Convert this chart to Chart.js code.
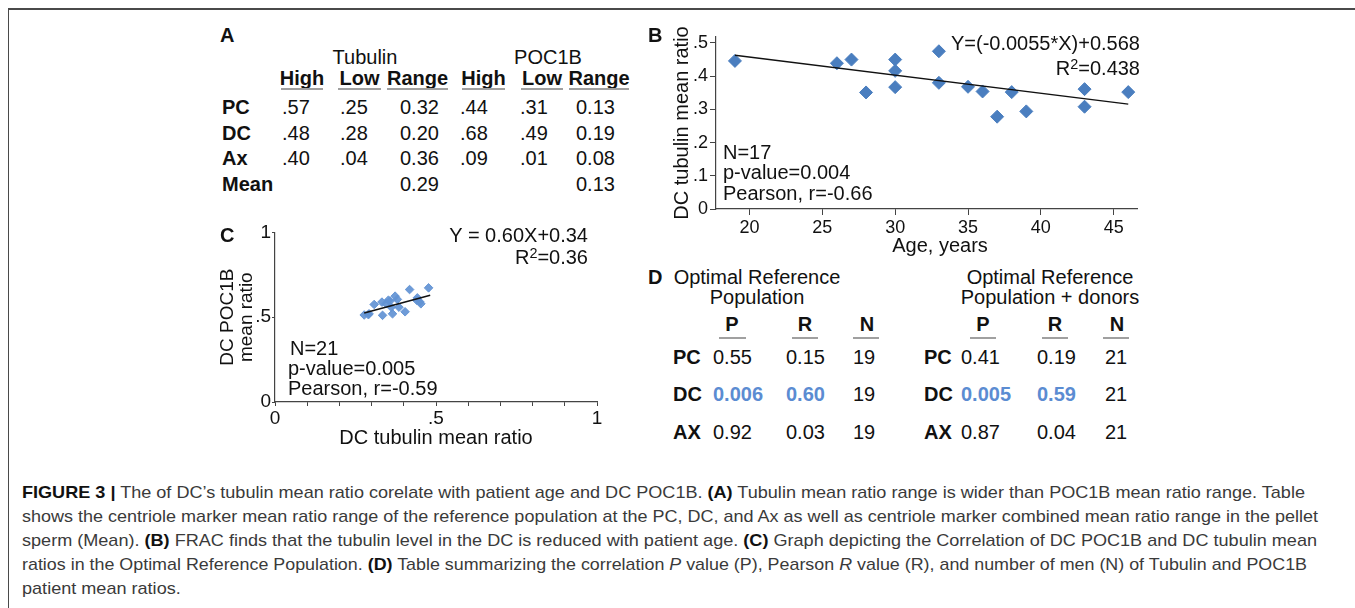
<!DOCTYPE html>
<html>
<head>
<meta charset="utf-8">
<script src="https://cdn.jsdelivr.net/npm/chart.js@4.4.1/dist/chart.umd.min.js"></script>
<style>
  html, body { margin: 0; padding: 0; background: #fff; }
  #page { position: relative; width: 1355px; height: 608px; overflow: hidden; font-family: 'Liberation Sans', Arial, sans-serif; color: #111; }
  #frame { position: absolute; left: 8px; top: 8px; width: 1400px; height: 700px; border-top: 2px solid #4a4a4a; border-left: 1.5px solid #4a4a4a; }
  canvas { position: absolute; }
  .t { position: absolute; white-space: nowrap; line-height: 1; }
  .cap { position: absolute; left: 22px; white-space: nowrap; font-family: 'Liberation Sans Narrow', 'Liberation Sans', sans-serif; font-size: 17px; color: #3a3a3a; line-height: 1; transform-origin: 0 50%; }
  .cap b { color: #111; }
  sup { font-size: 0.72em; vertical-align: 0.42em; line-height: 0; }
</style>
</head>
<body>
<div id="page">
  <div id="frame"></div>
  <canvas id="chartB" width="520" height="240" style="left:640px;top:20px;"></canvas>
  <canvas id="chartC" width="420" height="230" style="left:210px;top:220px;"></canvas>
</div>
<script>
// ---- Panel B: age vs DC tubulin mean ratio
const agesB = [19, 26, 27, 28, 30, 30, 30, 33, 33, 35, 36, 37, 38, 39, 43, 43, 46];
const tubulinB = [0.446, 0.439, 0.450, 0.351, 0.450, 0.416, 0.367, 0.475, 0.380, 0.368, 0.354, 0.278, 0.352, 0.294, 0.361, 0.308, 0.352];
const fitBx = [19, 46];
const fitBy = [0.463, 0.316];
const xTicksB = [20, 25, 30, 35, 40, 45];
const yTicksB = [0, 0.1, 0.2, 0.3, 0.4, 0.5];
const yTickLabelsB = ['0', '.1', '.2', '.3', '.4', '.5'];

// ---- Panel C: DC tubulin vs DC POC1B mean ratio
const tubulinC = [0.277, 0.290, 0.292, 0.308, 0.332, 0.334, 0.345, 0.352, 0.357, 0.361, 0.365, 0.373, 0.380, 0.385, 0.404, 0.418, 0.440, 0.442, 0.450, 0.453, 0.477];
const poc1bC = [0.513, 0.515, 0.520, 0.575, 0.589, 0.511, 0.580, 0.600, 0.595, 0.559, 0.520, 0.624, 0.605, 0.559, 0.532, 0.663, 0.600, 0.614, 0.590, 0.579, 0.673];
const fitCx = [0.277, 0.482];
const fitCy = [0.525, 0.630];
const xTicksC = [0, 0.1, 0.2, 0.3, 0.4, 0.5, 0.6, 0.7, 0.8, 0.9, 1];
const xTickLabelsC = ['0', '', '', '', '', '.5', '', '', '', '', '1'];
const yTicksC = [0, 0.5, 1];
const yTickLabelsC = ['0', '.5', '1'];

// ---- Panel A table
const rowLabelsA = ['PC', 'DC', 'Ax', 'Mean'];
const headersA = ['High', 'Low', 'Range', 'High', 'Low', 'Range'];
const tubulinHigh = ['.57', '.48', '.40', ''];
const tubulinLow = ['.25', '.28', '.04', ''];
const tubulinRange = ['0.32', '0.20', '0.36', '0.29'];
const pocHigh = ['.44', '.68', '.09', ''];
const pocLow = ['.31', '.49', '.01', ''];
const pocRange = ['0.13', '0.19', '0.08', '0.13'];

// ---- Panel D table
const rowLabelsD = ['PC', 'DC', 'AX'];
const headersD = ['P', 'R', 'N'];
const refP = ['0.55', '0.006', '0.92'];
const refR = ['0.15', '0.60', '0.03'];
const refN = ['19', '19', '19'];
const donorP = ['0.41', '0.005', '0.87'];
const donorR = ['0.19', '0.59', '0.04'];
const donorN = ['21', '21', '21'];

const page = document.getElementById('page');
const pointBlue = '#4a7ebf';
const axisGrey = '#444';

// put a text at (x, y=vertical centre)
function txt(html, x, y, opt = {}) {
    const d = document.createElement('div');
    d.className = 't';
    d.innerHTML = html;
    const align = opt.align || 'left';
    const tx = align === 'center' ? '-50%' : (align === 'right' ? '-100%' : '0');
    d.style.left = x + 'px';
    d.style.top = y + 'px';
    d.style.fontSize = (opt.size || 20) + 'px';
    d.style.fontWeight = opt.weight || 'normal';
    d.style.color = opt.color || '#111';
    d.style.transform = 'translate(' + tx + ',-50%)';
    page.appendChild(d);
    return d;
}

function rule(x1, x2, y, h, color) {
    const d = document.createElement('div');
    d.style.cssText = 'position:absolute;left:' + x1 + 'px;top:' + y + 'px;width:' + (x2 - x1) + 'px;height:' + h + 'px;background:' + color + ';';
    page.appendChild(d);
}

// ---------- Panel A ----------
txt('A', 220, 35, { weight: 'bold' });
txt('Tubulin', 365, 57, { align: 'center' });
txt('POC1B', 548, 57, { align: 'center' });
const headSpanA = [[281, 323], [338, 381], [387, 448], [462, 505], [521, 563], [569, 629]];
headersA.forEach((h, i) => {
    const [a, b] = headSpanA[i];
    txt(h, (a + b) / 2, 78, { align: 'center', weight: 'bold' });
    rule(a, b, 88, 2, '#a0a0a0');
});
const rowYA = [107, 133, 158, 184];
const colsA = [[tubulinHigh, 282], [tubulinLow, 340], [tubulinRange, 400], [pocHigh, 460], [pocLow, 520], [pocRange, 576]];
rowLabelsA.forEach((r, i) => {
    txt(r, 222, rowYA[i], { weight: 'bold' });
    colsA.forEach(([arr, x]) => { if (arr[i]) txt(arr[i], x, rowYA[i]); });
});

// ---------- Panel D ----------
txt('D', 648, 277, { weight: 'bold' });
txt('Optimal Reference', 757, 277, { align: 'center' });
txt('Population', 757, 297, { align: 'center' });
txt('Optimal Reference', 1050, 277, { align: 'center' });
txt('Population + donors', 1050, 297, { align: 'center' });
const headXD = [[732, 719, 746], [805, 792, 818], [867, 853, 879], [983, 970, 996], [1055, 1042, 1068], [1117, 1103, 1129]];
headXD.forEach(([c, a, b], i) => {
    txt(headersD[i % 3], c, 324, { align: 'center', weight: 'bold' });
    rule(a, b, 337, 1.5, '#a0a0a0');
});
const rowYD = [357, 394, 432];
const colsD = [[refP, 713], [refR, 786], [refN, 853], [donorP, 961], [donorR, 1037], [donorN, 1105]];
rowLabelsD.forEach((r, i) => {
    txt(r, 673, rowYD[i], { weight: 'bold' });
    txt(r, 924, rowYD[i], { weight: 'bold' });
    colsD.forEach(([arr, x], j) => {
        const hi = r === 'DC' && (j % 3) < 2;
        txt(arr[i], x, rowYD[i], hi ? { color: '#5b8cd2', weight: 'bold' } : {});
    });
});

// ---------- Panel B ----------
txt('B', 648, 35, { weight: 'bold' });
txt('Y=(-0.0055*X)+0.568', 1140, 43, { align: 'right' });
txt('R<sup>2</sup>=0.438', 1140, 68, { align: 'right' });
txt('N=17', 723, 152);
txt('p-value=0.004', 723, 172);
txt('Pearson, r=-0.66', 723, 193);
txt('Age, years', 940, 245, { align: 'center' });

new Chart(document.getElementById('chartB'), {
    type: 'scatter',
    data: {
        datasets: [{
            type: 'line',
            data: fitBx.map((x, i) => ({ x: x, y: fitBy[i] })),
            borderColor: '#111',
            borderWidth: 1.3,
            pointRadius: 0,
            fill: false,
            order: 0
        }, {
            data: agesB.map((x, i) => ({ x: x, y: tubulinB[i] })),
            pointStyle: 'rectRot',
            pointRadius: 6.5,
            backgroundColor: pointBlue,
            borderColor: pointBlue,
            borderWidth: 1,
            order: 1
        }]
    },
    options: {
        responsive: false,
        animation: false,
        layout: { padding: { left: 0, right: 23, top: 17, bottom: 0 } },
        plugins: { legend: { display: false }, tooltip: { enabled: false } },
        scales: {
            x: {
                type: 'linear',
                min: 17.7,
                max: 46.6,
                afterBuildTicks: s => { s.ticks = xTicksB.map(v => ({ value: v })); },
                afterFit: s => { s.height = 51; },
                ticks: { color: '#111', font: { size: 18, family: 'Liberation Sans' }, padding: 2 },
                grid: { drawOnChartArea: false, tickLength: 6, color: axisGrey },
                border: { color: axisGrey, width: 1.2 }
            },
            y: {
                min: 0,
                max: 0.518,
                afterBuildTicks: s => { s.ticks = yTicksB.map(v => ({ value: v })); },
                afterFit: s => { s.width = 76; },
                ticks: {
                    color: '#111', font: { size: 18, family: 'Liberation Sans' }, padding: 2,
                    callback: (v, i) => yTickLabelsB[i]
                },
                grid: { drawOnChartArea: false, tickLength: 6, color: axisGrey },
                border: { color: axisGrey, width: 1.2 },
                title: {
                    display: true, text: 'DC tubulin mean ratio', color: '#111',
                    font: { size: 20, family: 'Liberation Sans' }, padding: { top: 30, bottom: 0 }
                }
            }
        }
    }
});

// ---------- Panel C ----------
txt('C', 220, 235, { weight: 'bold' });
txt('Y = 0.60X+0.34', 588, 235, { align: 'right' });
txt('R<sup>2</sup>=0.36', 588, 257, { align: 'right' });
txt('N=21', 290, 348);
txt('p-value=0.005', 288, 368);
txt('Pearson, r=-0.59', 288, 388);

new Chart(document.getElementById('chartC'), {
    type: 'scatter',
    data: {
        datasets: [{
            type: 'line',
            data: fitCx.map((x, i) => ({ x: x, y: fitCy[i] })),
            borderColor: '#111',
            borderWidth: 1.6,
            pointRadius: 0,
            fill: false,
            order: 0
        }, {
            data: tubulinC.map((x, i) => ({ x: x, y: poc1bC[i] })),
            pointStyle: 'rectRot',
            pointRadius: 4.3,
            backgroundColor: 'rgba(98,146,212,0.92)',
            borderColor: 'rgba(98,146,212,0.92)',
            borderWidth: 1,
            order: 1
        }]
    },
    options: {
        responsive: false,
        animation: false,
        layout: { padding: { left: 0, right: 33, top: 11, bottom: 0 } },
        plugins: { legend: { display: false }, tooltip: { enabled: false } },
        scales: {
            x: {
                type: 'linear',
                min: 0,
                max: 1,
                afterBuildTicks: s => { s.ticks = xTicksC.map(v => ({ value: v })); },
                afterFit: s => { s.height = 48; },
                ticks: {
                    color: '#111', font: { size: 19, family: 'Liberation Sans' }, padding: 1,
                    autoSkip: false, maxRotation: 0,
                    callback: (v, i) => xTickLabelsC[i]
                },
                grid: { drawOnChartArea: false, tickLength: 4, color: axisGrey },
                border: { color: axisGrey, width: 1.2 },
                title: {
                    display: true, text: 'DC tubulin mean ratio', color: '#111',
                    font: { size: 20, family: 'Liberation Sans' }, padding: { top: 0, bottom: 0 }
                }
            },
            y: {
                min: 0,
                max: 1,
                afterBuildTicks: s => { s.ticks = yTicksC.map(v => ({ value: v })); },
                afterFit: s => { s.width = 65; },
                ticks: {
                    color: '#111', font: { size: 19, family: 'Liberation Sans' }, padding: 1,
                    callback: (v, i) => yTickLabelsC[i]
                },
                grid: { drawOnChartArea: false, tickLength: 3, color: axisGrey },
                border: { color: axisGrey, width: 1.2 },
                title: {
                    display: true, text: ['DC POC1B', 'mean ratio'], color: '#111',
                    font: { size: 19, family: 'Liberation Sans', lineHeight: 1 }, padding: { top: 8.5, bottom: 0 }
                }
            }
        }
    }
});

// ---------- Caption ----------
const captionLines = [
    '<b>FIGURE 3 |</b> The of DC’s tubulin mean ratio corelate with patient age and DC POC1B. <b>(A)</b> Tubulin mean ratio range is wider than POC1B mean ratio range. Table',
    'shows the centriole marker mean ratio range of the reference population at the PC, DC, and Ax as well as centriole marker combined mean ratio range in the pellet',
    'sperm (Mean). <b>(B)</b> FRAC finds that the tubulin level in the DC is reduced with patient age. <b>(C)</b> Graph depicting the Correlation of DC POC1B and DC tubulin mean',
    'ratios in the Optimal Reference Population. <b>(D)</b> Table summarizing the correlation <i>P</i> value (P), Pearson <i>R</i> value (R), and number of men (N) of Tubulin and POC1B',
    'patient mean ratios.'
];
const capRight = [1305, 1318, 1317, 1307, null];
let firstScale = 1;
captionLines.forEach((line, i) => {
    const d = document.createElement('div');
    d.className = 'cap';
    d.innerHTML = line;
    d.style.top = (492 + i * 24) + 'px';
    page.appendChild(d);
    const w = d.getBoundingClientRect().width;
    let k = capRight[i] ? (capRight[i] - 22) / w : firstScale;
    if (i === 0) firstScale = k;
    d.style.transform = 'translateY(-50%) scaleX(' + k + ')';
});
</script>
</body>
</html>
